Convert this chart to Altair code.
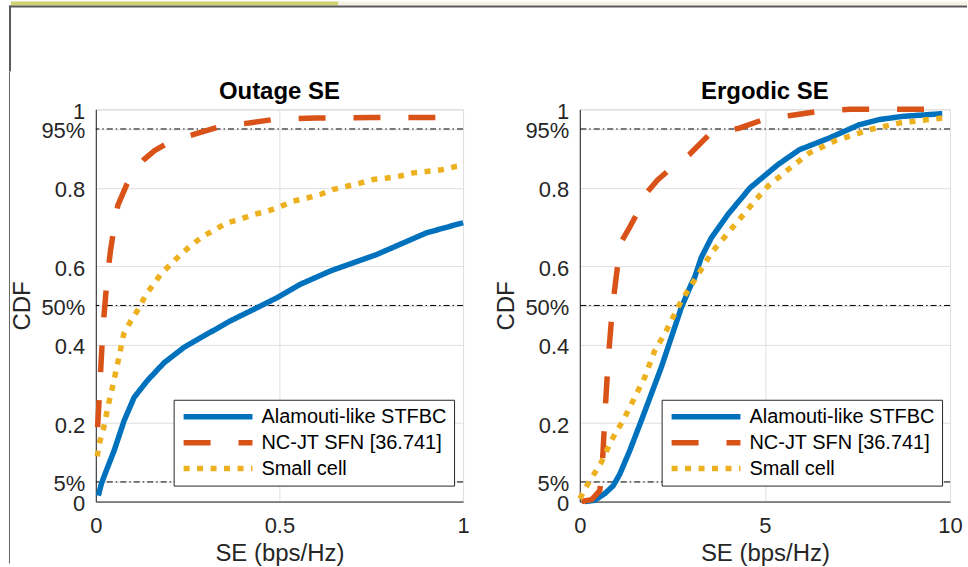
import altair as alt
import pandas as pd

FONT = "Liberation Sans"

series_names = ["Alamouti-like STFBC", "NC-JT SFN [36.741]", "Small cell"]
series_colors = ["#0072BD", "#D95319", "#EDB120"]
series_dash = [[1, 0], [27, 28], [6, 7.5]]

y_tick_values = [0, 0.05, 0.2, 0.4, 0.5, 0.6, 0.8, 0.95, 1]
ref_levels = [0.05, 0.5, 0.95]

# ---- Outage SE panel ----
out_alam_x = [0.007, 0.015, 0.027, 0.05, 0.077, 0.104, 0.14, 0.186, 0.24, 0.303,
              0.367, 0.43, 0.494, 0.557, 0.639, 0.702, 0.765, 0.829, 0.9, 1.0]
out_alam_y = [0.015, 0.045, 0.075, 0.13, 0.206, 0.265, 0.308, 0.354, 0.393, 0.427,
              0.461, 0.49, 0.52, 0.554, 0.588, 0.609, 0.63, 0.656, 0.685, 0.711]

out_ncjt_x = [0.005, 0.009, 0.013, 0.017, 0.022, 0.03, 0.04, 0.05, 0.06, 0.085, 0.105,
              0.131, 0.16, 0.195, 0.23, 0.267, 0.34, 0.417, 0.489, 0.6, 0.75, 1.0]
out_ncjt_y = [0.19, 0.26, 0.33, 0.40, 0.47, 0.56, 0.64, 0.70, 0.755, 0.81, 0.845,
              0.872, 0.895, 0.914, 0.926, 0.936, 0.957, 0.965, 0.975, 0.978, 0.979, 0.979]

out_small_x = [0.004, 0.009, 0.022, 0.035, 0.045, 0.059, 0.076, 0.095, 0.118, 0.136,
               0.158, 0.177, 0.204, 0.231, 0.263, 0.293, 0.326, 0.358, 0.394, 0.429,
               0.467, 0.494, 0.538, 0.575, 0.611, 0.647, 0.684, 0.72, 0.755, 0.793,
               0.829, 0.864, 0.905, 0.942, 0.983, 1.0]
out_small_y = [0.115, 0.147, 0.19, 0.25, 0.29, 0.35, 0.427, 0.46, 0.494, 0.527,
               0.555, 0.58, 0.605, 0.63, 0.656, 0.677, 0.694, 0.711, 0.72, 0.732,
               0.74, 0.749, 0.766, 0.774, 0.783, 0.796, 0.804, 0.812, 0.821, 0.825,
               0.83, 0.838, 0.842, 0.846, 0.855, 0.857]

# ---- Ergodic SE panel ----
erg_alam_x = [0.13, 0.4, 0.67, 0.9, 1.08, 1.35, 1.66, 1.93, 2.2, 2.47, 2.74, 3.01,
              3.1, 3.28, 3.55, 4.0, 4.6, 5.35, 5.93, 6.74, 7.55, 8.09, 8.71, 9.79]
erg_alam_y = [0.0, 0.003, 0.02, 0.04, 0.07, 0.13, 0.206, 0.274, 0.342, 0.418, 0.494, 0.554,
              0.571, 0.622, 0.672, 0.732, 0.8, 0.859, 0.897, 0.927, 0.961, 0.974, 0.982, 0.989]

erg_ncjt_x = [0.05, 0.32, 0.54, 0.6, 0.64, 0.69, 0.74, 0.8, 0.86, 0.94, 1.02, 1.13, 1.35,
              1.54, 1.83, 2.1, 2.43, 2.96, 3.5, 4.31, 4.99, 5.74, 6.47, 7.3, 8.5, 9.8]
erg_ncjt_y = [0.0, 0.005, 0.028, 0.08, 0.15, 0.24, 0.32, 0.40, 0.47, 0.54, 0.60, 0.664, 0.70,
              0.733, 0.79, 0.82, 0.847, 0.885, 0.936, 0.952, 0.975, 0.985, 0.995, 1.0, 1.0, 1.0]

erg_small_x = [0.0, 0.22, 0.58, 0.85, 1.21, 1.48, 1.75, 2.02, 2.29, 2.56, 2.74, 3.1, 3.37,
               3.55, 3.82, 4.27, 4.76, 5.08, 5.57, 6.2, 6.9, 7.9, 8.63, 9.79]
erg_small_y = [0.007, 0.045, 0.1, 0.155, 0.214, 0.265, 0.316, 0.384, 0.427, 0.478, 0.511,
               0.565, 0.605, 0.634, 0.664, 0.715, 0.77, 0.804, 0.842, 0.889, 0.92, 0.95,
               0.965, 0.978]


def make_df(xs_list, ys_list):
    rows = []
    for name, xs, ys in zip(series_names, xs_list, ys_list):
        for i, (x, y) in enumerate(zip(xs, ys)):
            rows.append({"series": name, "x": x, "cdf": y, "idx": i})
    return pd.DataFrame(rows)


outage_df = make_df([out_alam_x, out_ncjt_x, out_small_x], [out_alam_y, out_ncjt_y, out_small_y])
ergodic_df = make_df([erg_alam_x, erg_ncjt_x, erg_small_x], [erg_alam_y, erg_ncjt_y, erg_small_y])
ref_df = pd.DataFrame({"cdf": ref_levels})

y_label_expr = ("datum.value == 0.95 ? '95%' : datum.value == 0.5 ? '50%' : "
                "datum.value == 0.05 ? '5%' : format(datum.value, '~r')")


def y_enc():
    return alt.Y(
        "cdf:Q",
        scale=alt.Scale(domain=[0, 1], nice=False, zero=False),
        axis=alt.Axis(values=y_tick_values, labelExpr=y_label_expr, title="CDF",
                      labelPadding=11, titlePadding=6, labelOverlap=False,
                      labelFlush=False, labelOffset=2, grid=True),
    )


def legend(lx, ly):
    return alt.Legend(orient="none", legendX=lx, legendY=ly, direction="vertical",
                      symbolType="stroke", symbolSize=4761, symbolStrokeWidth=5.5,
                      labelFontSize=20, labelFont=FONT, labelColor="black",
                      labelLimit=0, labelOffset=6, padding=7, rowPadding=6,
                      clipHeight=20, strokeColor="#262626", fillColor="white",
                      cornerRadius=0)


def panel(df, xmax, xticks, title, width, lx, ly):
    xenc = alt.X("x:Q", scale=alt.Scale(domain=[0, xmax], nice=False, zero=False),
                 axis=alt.Axis(values=xticks, format="~r", labelFlush=False,
                               labelOverlap=False, title="SE (bps/Hz)",
                               labelPadding=14, titlePadding=5, grid=True))
    rules = alt.Chart(ref_df).mark_rule(color="black", strokeWidth=1,
                                        strokeDash=[6, 3, 1.5, 3]).encode(y=y_enc())
    lines = alt.Chart(df).mark_line(strokeWidth=5.5, strokeCap="butt", strokeJoin="round").encode(
        x=xenc,
        y=y_enc(),
        order=alt.Order("idx:Q"),
        color=alt.Color("series:N", title=None,
                        scale=alt.Scale(domain=series_names, range=series_colors),
                        legend=legend(lx, ly)),
        strokeDash=alt.StrokeDash("series:N", title=None,
                                  scale=alt.Scale(domain=series_names, range=series_dash),
                                  legend=legend(lx, ly)),
    )
    return alt.layer(rules, lines).properties(
        width=width, height=393,
        title=alt.TitleParams(title, anchor="middle", offset=-4))


# page frame decorations (screenshot border of the source slide), own thin column
one = pd.DataFrame({"d": [0]})
def deco(color, x1, x2, y1, y2):
    return alt.Chart(one).mark_rect(color=color).encode(
        x=alt.value(x1), x2=alt.value(x2), y=alt.value(y1), y2=alt.value(y2))

frame = alt.layer(
    deco("#cfd170", 2, 330, -108, -104),
    deco("#f5f3e5", 330, 960, -108, -104),
    deco("#5a5a5a", 0, 960, -104, -102),
    deco("#5a5a5a", 0, 2, -104, -38),
    deco("#666666", 0, 1, -38, 455),
).properties(width=2, height=393, view=alt.ViewBackground(stroke="transparent"))

left = panel(outage_df, 1, [0, 0.5, 1], "Outage SE", 368, 78, 291)
right = panel(ergodic_df, 10, [0, 5, 10], "Ergodic SE", 371, 82, 291)

panels = alt.hconcat(left, right, spacing=117, bounds="flush").resolve_scale(
    color="independent", strokeDash="independent", x="independent", y="independent"
).resolve_legend(color="independent", strokeDash="independent")

chart = alt.hconcat(frame, panels, spacing=85, bounds="flush").properties(
    padding={"left": 8, "top": 0, "right": 0, "bottom": 0}
).configure(font=FONT).configure_view(
    stroke="#d9d9d9", strokeWidth=1
).configure_axis(
    domainColor="#262626", domainWidth=1, gridColor="#dfdfdf", gridWidth=1,
    labelColor="#262626", titleColor="#262626", labelFontSize=22, titleFontSize=24,
    titleFontWeight="normal", ticks=False, tickSize=0, labelFont=FONT, titleFont=FONT
).configure_title(
    fontSize=24, font=FONT, fontWeight="bold", color="black"
)

chart.save("out.html", embed_options={"renderer": "svg", "actions": False})
